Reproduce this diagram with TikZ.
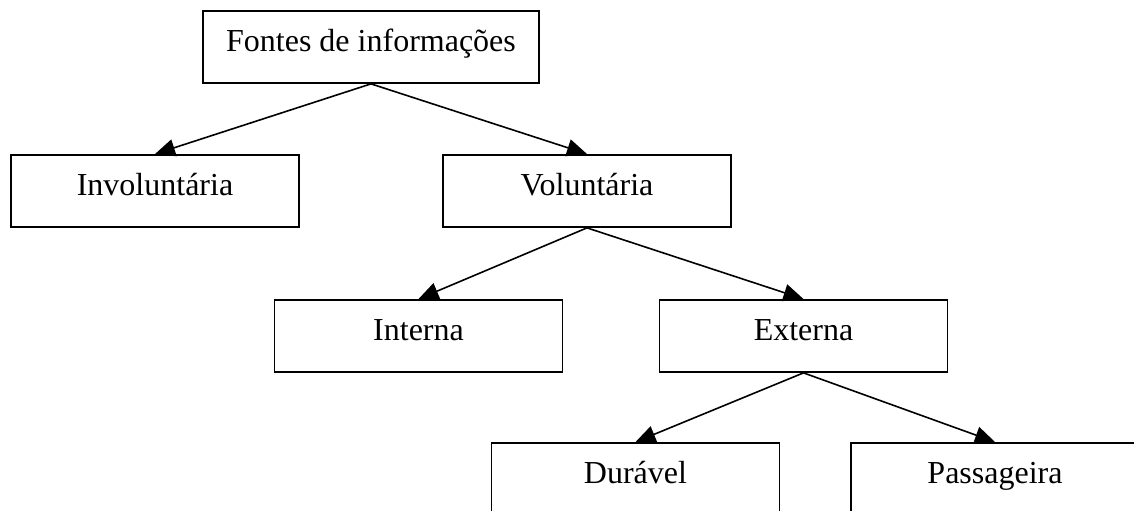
\documentclass[tikz,border=0pt]{standalone}
\usepackage{fontspec}
\setmainfont{Liberation Serif}
\usetikzlibrary{arrows.meta}
\begin{document}
\begin{tikzpicture}[x=0.75pt,y=-0.75pt,
  box/.style={draw, line width=1.4pt, anchor=north, inner xsep=0pt, inner ysep=0pt,
    text height=30.75pt, text depth=23.25pt, minimum width=216pt,
    font=\fontsize{24}{28}\selectfont},
  link/.style={line width=1.2pt, -{Triangle[length=15pt,width=13pt]}}]
\useasboundingbox (0,0) rectangle (1134,510);
\clip (0,0) rectangle (1134,510);

% hierarchy of information sources
\node[box, minimum width=252pt] (fontes) at (371,10) {Fontes de informações};
\node[box] (invol) at (155,154) {Involuntária};
\node[box] (vol) at (587,154) {Voluntária};
\node[box] (interna) at (418.5,299) {Interna};
\node[box] (externa) at (803.5,299) {Externa};
\node[box] (duravel) at (635.5,442) {Durável};
\node[box] (passag) at (995,442) {Passageira};

% links from each parent to its children
\draw[link] (fontes.south) -- (invol.north);
\draw[link] (fontes.south) -- (vol.north);
\draw[link] (vol.south) -- (interna.north);
\draw[link] (vol.south) -- (externa.north);
\draw[link] (externa.south) -- (duravel.north);
\draw[link] (externa.south) -- (passag.north);
\end{tikzpicture}
\end{document}
